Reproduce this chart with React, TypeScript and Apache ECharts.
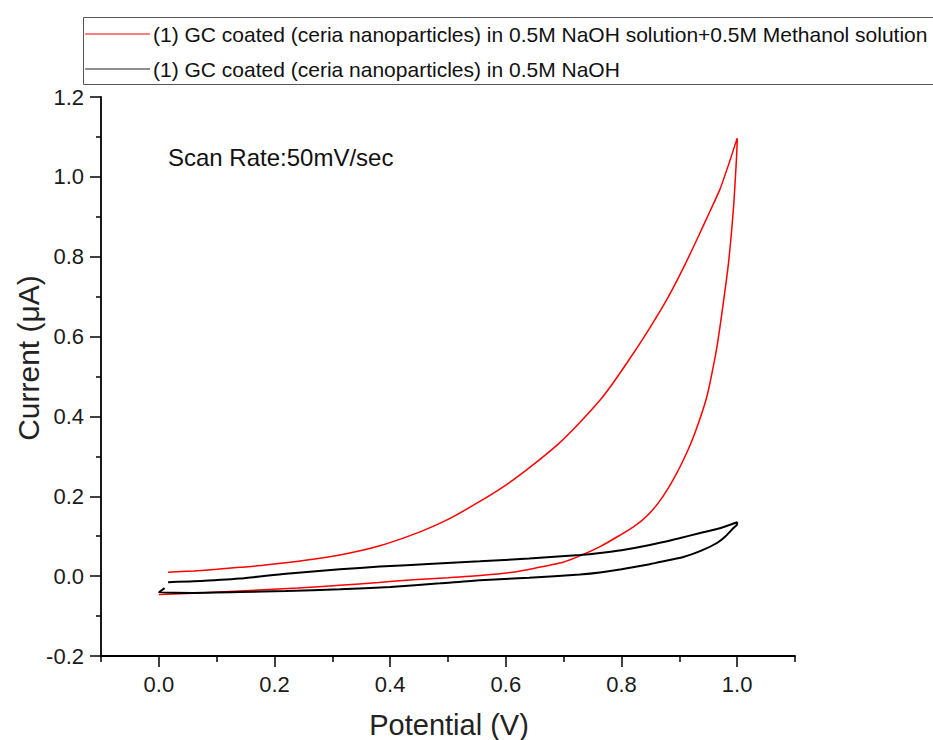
import React, { useEffect, useRef } from "react";
import * as echarts from "echarts";

// Methanol + NaOH (red) — forward (upper) and reverse (lower) branches [V, µA]
const redForward: [number, number][] = [
  [0.016, 0.010], [0.06, 0.013], [0.10, 0.017], [0.14, 0.022], [0.18, 0.027],
  [0.227, 0.035], [0.27, 0.043], [0.313, 0.053], [0.35, 0.064], [0.382, 0.076],
  [0.42, 0.094], [0.457, 0.114], [0.50, 0.142], [0.555, 0.187], [0.60, 0.228],
  [0.642, 0.273], [0.69, 0.33], [0.728, 0.385], [0.763, 0.441], [0.786, 0.485],
  [0.82, 0.557], [0.849, 0.622], [0.88, 0.697], [0.907, 0.772], [0.93, 0.842],
  [0.953, 0.914], [0.97, 0.968], [0.985, 1.03], [1.0, 1.097],
];
const redReverse: [number, number][] = [
  [1.0, 1.09], [0.997, 1.0], [0.993, 0.91], [0.985, 0.784], [0.976, 0.684],
  [0.965, 0.574], [0.953, 0.484], [0.946, 0.441], [0.933, 0.383], [0.92, 0.333],
  [0.907, 0.291], [0.893, 0.251], [0.879, 0.216], [0.865, 0.186], [0.849, 0.158],
  [0.835, 0.139], [0.82, 0.123], [0.792, 0.098], [0.763, 0.074], [0.73, 0.052],
  [0.699, 0.035], [0.65, 0.02], [0.612, 0.01], [0.56, 0.002], [0.5, -0.004],
  [0.44, -0.009], [0.38, -0.016], [0.313, -0.023], [0.24, -0.03], [0.14, -0.037],
  [0.07, -0.042], [0.0, -0.046],
];
// NaOH only (black)
const blackForward: [number, number][] = [
  [0.016, -0.015], [0.06, -0.013], [0.14, -0.006], [0.22, 0.006], [0.313, 0.017],
  [0.382, 0.024], [0.474, 0.031], [0.555, 0.037], [0.64, 0.044], [0.728, 0.053],
  [0.763, 0.058], [0.80, 0.065], [0.849, 0.078], [0.90, 0.095], [0.936, 0.108],
  [0.97, 0.12], [1.0, 0.135],
];
const blackReverse: [number, number][] = [
  [1.0, 0.13], [0.993, 0.12], [0.98, 0.10], [0.965, 0.083], [0.94, 0.065],
  [0.907, 0.048], [0.862, 0.034], [0.849, 0.03], [0.80, 0.017], [0.763, 0.009],
  [0.728, 0.004], [0.64, -0.004], [0.555, -0.01], [0.486, -0.018], [0.4, -0.027],
  [0.313, -0.033], [0.22, -0.037], [0.14, -0.04], [0.06, -0.042], [0.0, -0.041],
  [0.01, -0.03],
];

const xMajorTicks = [0, 0.2, 0.4, 0.6, 0.8, 1.0];
const xMinorTicks = [-0.1, 0.1, 0.3, 0.5, 0.7, 0.9, 1.1];
const legendLabels = [
  "(1) GC coated (ceria nanoparticles) in 0.5M NaOH solution+0.5M Methanol solution",
  "(1) GC coated (ceria nanoparticles) in 0.5M NaOH",
];
const seriesColors = ["#ff0000", "#000000"];
const annotation = "Scan Rate:50mV/sec";
const xTitle = "Potential (V)";
const yTitle = "Current (\u03bcA)";

const FONT = "'Liberation Sans', Arial, sans-serif";

export default function App() {
  const ref = useRef<HTMLDivElement>(null);
  useEffect(() => {
    if (!ref.current) return;
    const chart = echarts.init(ref.current, undefined, { renderer: "svg" });
    const tickStyle = { color: "#000", width: 1.5 };
    chart.setOption({
      animation: false,
      backgroundColor: "#fff",
      grid: { left: 101, top: 97, width: 694, height: 559, containLabel: false },
      xAxis: [
        {
          type: "value",
          min: -0.1,
          max: 1.1,
          axisLine: { show: true, onZero: false, lineStyle: { color: "#000", width: 1.8 } },
          axisTick: { show: true, inside: false, length: 11, customValues: xMajorTicks, lineStyle: tickStyle },
          axisLabel: {
            customValues: xMajorTicks,
            formatter: (v: number) => v.toFixed(1),
            fontSize: 22,
            color: "#1a1a1a",
            fontFamily: FONT,
            margin: 17,
          },
          splitLine: { show: false },
        },
        {
          type: "value",
          min: -0.1,
          max: 1.1,
          position: "bottom",
          offset: 0,
          axisLine: { show: false, onZero: false },
          axisTick: { show: true, inside: false, length: 6, customValues: xMinorTicks, lineStyle: tickStyle },
          axisLabel: { show: false },
          splitLine: { show: false },
        },
      ],
      yAxis: {
        type: "value",
        min: -0.2,
        max: 1.2,
        interval: 0.2,
        axisLine: { show: true, onZero: false, lineStyle: { color: "#000", width: 1.8 } },
        axisTick: { show: true, inside: false, length: 11, lineStyle: tickStyle },
        minorTick: { show: true, splitNumber: 2, length: 5, lineStyle: tickStyle },
        axisLabel: {
          formatter: (v: number) => v.toFixed(1),
          fontSize: 22,
          color: "#1a1a1a",
          fontFamily: FONT,
          margin: 17,
        },
        splitLine: { show: false },
        minorSplitLine: { show: false },
      },
      series: [
        {
          name: legendLabels[0],
          type: "line",
          xAxisIndex: 0,
          data: [...redForward, ...redReverse],
          showSymbol: false,
          smooth: 0.2,
          lineStyle: { color: seriesColors[0], width: 1.5 },
          z: 2,
        },
        {
          name: legendLabels[1],
          type: "line",
          xAxisIndex: 0,
          data: [...blackForward, ...blackReverse],
          showSymbol: false,
          smooth: 0.2,
          lineStyle: { color: seriesColors[1], width: 2 },
          z: 3,
        },
      ],
      graphic: [
        {
          type: "rect",
          shape: { x: 83.5, y: 17.5, width: 900, height: 67 },
          style: { fill: "#fff", stroke: "#555", lineWidth: 1 },
        },
        {
          type: "line",
          shape: { x1: 85, y1: 34, x2: 150, y2: 34 },
          style: { stroke: seriesColors[0], lineWidth: 1.2 },
        },
        {
          type: "text",
          x: 153,
          y: 34,
          style: { text: legendLabels[0], font: `21px ${FONT}`, fill: "#111", verticalAlign: "middle", align: "left" },
        },
        {
          type: "line",
          shape: { x1: 85, y1: 69, x2: 150, y2: 69 },
          style: { stroke: "#222", lineWidth: 1.2 },
        },
        {
          type: "text",
          x: 153,
          y: 69,
          style: { text: legendLabels[1], font: `21px ${FONT}`, fill: "#111", verticalAlign: "middle", align: "left" },
        },
        {
          type: "text",
          x: 168,
          y: 157,
          style: { text: annotation, font: `24px ${FONT}`, fill: "#111", verticalAlign: "middle", align: "left" },
        },
        {
          type: "text",
          x: 449,
          y: 725,
          style: { text: xTitle, font: `29px ${FONT}`, fill: "#222", verticalAlign: "middle", align: "center" },
        },
        {
          type: "text",
          x: 28,
          y: 358,
          rotation: Math.PI / 2,
          style: { text: yTitle, font: `30px ${FONT}`, fill: "#222", verticalAlign: "middle", align: "center" },
        },
      ],
    });
    return () => chart.dispose();
  }, []);
  return (
    <div
      ref={ref}
      style={{ position: "absolute", left: 0, top: 0, width: 933, height: 740 }}
    />
  );
}
